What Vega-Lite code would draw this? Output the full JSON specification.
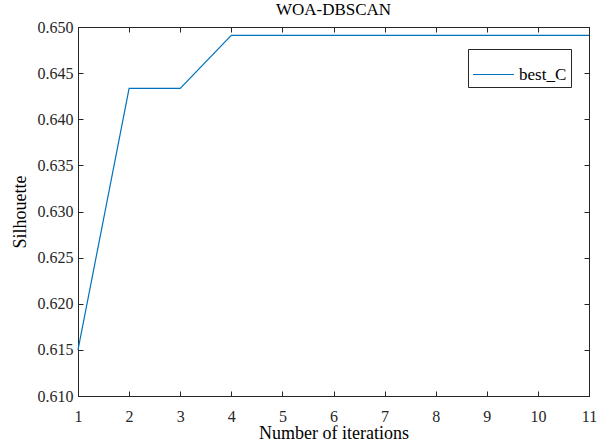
{
  "$schema": "https://vega.github.io/schema/vega-lite/v6.json",
  "width": 511,
  "height": 369,
  "autosize": {"type": "none"},
  "padding": {"left": 78, "top": 27, "right": 22, "bottom": 45},
  "background": "white",
  "title": {"text": "WOA-DBSCAN", "font": "Liberation Serif", "fontSize": 17, "fontWeight": "normal", "color": "#000000", "offset": 0},
  "config": {
    "view": {"stroke": "#000000", "strokeWidth": 1}
  },
  "data": {"values": [
    {"iter": 1, "value": 0.6150, "series": "best_C"},
    {"iter": 2, "value": 0.64335, "series": "best_C"},
    {"iter": 3, "value": 0.64335, "series": "best_C"},
    {"iter": 4, "value": 0.6491, "series": "best_C"},
    {"iter": 5, "value": 0.6491, "series": "best_C"},
    {"iter": 6, "value": 0.6491, "series": "best_C"},
    {"iter": 7, "value": 0.6491, "series": "best_C"},
    {"iter": 8, "value": 0.6491, "series": "best_C"},
    {"iter": 9, "value": 0.6491, "series": "best_C"},
    {"iter": 10, "value": 0.6491, "series": "best_C"},
    {"iter": 11, "value": 0.6491, "series": "best_C"}
  ]},
  "resolve": {"axis": {"x": "independent", "y": "independent"}},
  "layer": [
    {
      "mark": {"type": "line", "strokeWidth": 1.2},
      "encoding": {
        "x": {"field": "iter", "type": "quantitative", "scale": {"domain": [1, 11], "nice": false, "zero": false},
              "axis": {"title": "Number of iterations", "values": [1,2,3,4,5,6,7,8,9,10,11], "labelPadding": 17, "titlePadding": 0, "labelFlush": false,
                       "labelFont": "Times New Roman", "labelFontSize": 16, "labelColor": "#262626",
                       "titleFont": "Liberation Serif", "titleFontSize": 18, "titleFontWeight": "normal", "titleColor": "#000000",
                       "domainColor": "#262626", "tickColor": "#262626", "tickSize": -5, "grid": false}},
        "y": {"field": "value", "type": "quantitative", "scale": {"domain": [0.61, 0.65], "nice": false, "zero": false},
              "axis": {"title": "Silhouette", "values": [0.61,0.615,0.62,0.625,0.63,0.635,0.64,0.645,0.65], "format": ".3f", "labelPadding": 10, "titlePadding": 8, "labelFlush": false,
                       "labelFont": "Times New Roman", "labelFontSize": 16, "labelColor": "#262626",
                       "titleFont": "Liberation Serif", "titleFontSize": 18, "titleFontWeight": "normal", "titleColor": "#000000",
                       "domainColor": "#262626", "tickColor": "#262626", "tickSize": -5, "grid": false}},
        "color": {"field": "series", "type": "nominal", "scale": {"range": ["#0072BD"]},
                  "legend": {"title": null, "orient": "none", "legendX": 390, "legendY": 22, "symbolType": "stroke", "symbolSize": 1681, "symbolStrokeWidth": 1.2,
                             "labelFont": "Times New Roman", "labelFontSize": 17, "labelColor": "#000000", "strokeColor": "#262626", "padding": 4, "fillColor": "white", "symbolOffset": 0, "labelOffset": 4}}
      }
    },
    {
      "mark": {"type": "line", "opacity": 0},
      "encoding": {
        "x": {"field": "iter", "type": "quantitative", "axis": {"orient": "top", "title": null, "labels": false, "values": [1,2,3,4,5,6,7,8,9,10,11], "domainColor": "#262626", "tickColor": "#262626", "tickSize": -5, "grid": false}},
        "y": {"field": "value", "type": "quantitative", "axis": {"orient": "right", "title": null, "labels": false, "values": [0.61,0.615,0.62,0.625,0.63,0.635,0.64,0.645,0.65], "domainColor": "#262626", "tickColor": "#262626", "tickSize": -5, "grid": false}}
      }
    }
  ]
}
